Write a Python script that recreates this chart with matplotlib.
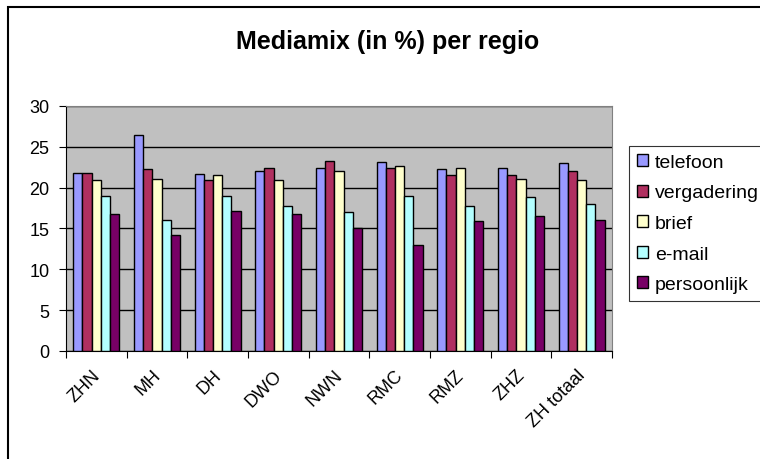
import numpy as np
import matplotlib.pyplot as plt
import matplotlib.transforms as mtransforms
from matplotlib.patches import Rectangle

plt.rcParams['font.family'] = ['Liberation Sans', 'DejaVu Sans']

regios = ['ZHN', 'MH', 'DH', 'DWO', 'NWN', 'RMC', 'RMZ', 'ZHZ', 'ZH totaal']
series = ['telefoon', 'vergadering', 'brief', 'e-mail', 'persoonlijk']
telefoon = [21.8, 26.5, 21.7, 22.1, 22.45, 23.2, 22.25, 22.45, 23.0]
vergadering = [21.8, 22.25, 20.9, 22.45, 23.3, 22.45, 21.5, 21.5, 22.1]
brief = [20.9, 21.1, 21.5, 20.9, 22.1, 22.7, 22.45, 21.1, 20.9]
email = [19.0, 16.1, 19.0, 17.8, 17.0, 19.0, 17.8, 18.8, 18.0]
persoonlijk = [16.8, 14.15, 17.2, 16.8, 15.1, 13.0, 15.9, 16.5, 16.1]
colors = ['#9999FF', '#B03060', '#FFFFCC', '#B3FFFF', '#780066']

fig = plt.figure(figsize=(7.6, 4.6), dpi=100)
ax = fig.add_axes([0.0868, 0.2348, 0.7184, 0.5326])
ax.set_facecolor('#C0C0C0')

x = np.arange(len(regios))
w = 0.152
data = [telefoon, vergadering, brief, email, persoonlijk]
for i, (vals, name) in enumerate(zip(data, series)):
    ax.bar(x + (i - 2) * w, vals, w, color=colors[i], edgecolor='black',
           linewidth=1.0, label=name, zorder=3)

ax.set_xlim(-0.5, len(regios) - 0.5)
ax.set_ylim(0, 30)
ax.set_yticks(range(0, 31, 5))
ax.yaxis.grid(True, color='black', linewidth=1, zorder=1)
ax.set_axisbelow(True)

# tick marks between the groups, labels under the group centres
ax.set_xticks(np.arange(-0.5, len(regios), 1))
ax.set_xticklabels([])
ax.set_xticks(x, minor=True)
ax.set_xticklabels(regios, minor=True, rotation=45, ha='right',
                   rotation_mode='anchor', fontsize=13)
ax.tick_params(axis='x', which='minor', length=0, pad=11)
ax.tick_params(axis='x', which='major', length=5, color='black', direction='out')
ax.tick_params(axis='y', length=5, labelsize=13, pad=7)

shift = mtransforms.ScaledTranslation(-5 / 100, 0, fig.dpi_scale_trans)
for lab in ax.get_xticklabels(minor=True):
    lab.set_transform(lab.get_transform() + shift)

for s in ['top', 'right']:
    ax.spines[s].set_color('#808080')
for s in ['left', 'bottom']:
    ax.spines[s].set_color('black')

handles, labels = ax.get_legend_handles_labels()
leg = fig.legend(handles, labels, loc='upper left', bbox_to_anchor=(0.8276, 0.6804),
                 bbox_transform=fig.transFigure, fontsize=14,
                 frameon=True, fancybox=False, edgecolor='black',
                 handlelength=0.57, handleheight=0.57, handletextpad=0.36,
                 labelspacing=0.7, borderpad=0.4, borderaxespad=0)
leg.get_frame().set_linewidth(0.8)

fig.text(0.5105, 0.9087, 'Mediamix (in %) per regio', ha='center', va='center',
         fontsize=18, fontweight='bold')

fig.patches.append(Rectangle((0.0105, -0.1), 1.2, 1.0826, transform=fig.transFigure,
                             fill=False, edgecolor='black', linewidth=1.5))

fig.savefig('out.png', dpi=100)
